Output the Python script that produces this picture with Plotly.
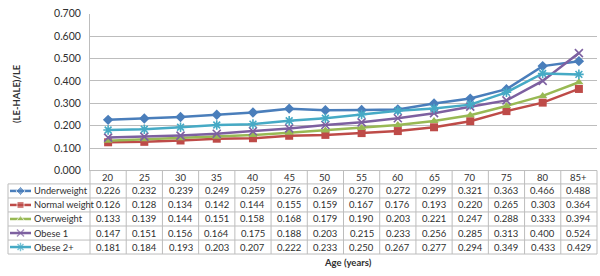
import plotly.graph_objects as go

ages = ["20", "25", "30", "35", "40", "45", "50", "55", "60", "65", "70", "75", "80", "85+"]
series_names = ["Underweight", "Normal weight", "Overweight", "Obese 1", "Obese 2+"]
underweight = [0.226, 0.232, 0.239, 0.249, 0.259, 0.276, 0.269, 0.270, 0.272, 0.299, 0.321, 0.363, 0.466, 0.488]
normal_weight = [0.126, 0.128, 0.134, 0.142, 0.144, 0.155, 0.159, 0.167, 0.176, 0.193, 0.220, 0.265, 0.303, 0.364]
overweight = [0.133, 0.139, 0.144, 0.151, 0.158, 0.168, 0.179, 0.190, 0.203, 0.221, 0.247, 0.288, 0.333, 0.394]
obese1 = [0.147, 0.151, 0.156, 0.164, 0.175, 0.188, 0.203, 0.215, 0.233, 0.256, 0.285, 0.313, 0.400, 0.524]
obese2 = [0.181, 0.184, 0.193, 0.203, 0.207, 0.222, 0.233, 0.250, 0.267, 0.277, 0.294, 0.349, 0.433, 0.429]
y_ticks = [0.0, 0.1, 0.2, 0.3, 0.4, 0.5, 0.6, 0.7]

series_values = [underweight, normal_weight, overweight, obese1, obese2]
colors = ["#4A7EBB", "#BE4B48", "#98B954", "#7D60A0", "#46AAC5"]
symbols = ["diamond", "square", "triangle-up", "x-thin", "asterisk"]
msizes = [8, 8, 8, 8, 8]

W, H = 600, 276
PL, PR, PT, PB = 90, 597, 8, 172   # plot area in pixels
TL = 8                              # table left
row_lines = [186, 200.7, 215.3, 230, 244.7, 259.3]
FONT = "Lato, Liberation Sans, sans-serif"
TXT = "#303030"
GRID = "#BDBDBD"

fig = go.Figure()

for name, vals, c, s, ms in zip(series_names, series_values, colors, symbols, msizes):
    line_marker = dict(symbol=s, size=ms, color=c)
    if s in ("x-thin", "asterisk"):
        line_marker["line"] = dict(color=c, width=1.6)
    fig.add_trace(go.Scatter(
        x=ages, y=vals, mode="lines+markers", name=name,
        line=dict(color=c, width=2.5), marker=line_marker,
        xaxis="x", yaxis="y", showlegend=False, cliponaxis=False))

# legend samples in the table label column (pixel axes x2/y2)
for i, (name, c, s, ms) in enumerate(zip(series_names, colors, symbols, msizes)):
    yc = (row_lines[i] + row_lines[i + 1]) / 2
    mk = dict(symbol=s, size=[0, ms - 1, 0], color=c)
    if s in ("x-thin", "asterisk"):
        mk["line"] = dict(color=c, width=1.4)
    fig.add_trace(go.Scatter(
        x=[10, 20.5, 31], y=[yc, yc, yc], mode="lines+markers",
        line=dict(color=c, width=2.5), marker=mk,
        xaxis="x2", yaxis="y2", showlegend=False, hoverinfo="skip", cliponaxis=False))
    fig.add_annotation(x=31.5, y=yc, xref="x2", yref="y2", text=name, showarrow=False,
                       xanchor="left", yanchor="middle",
                       font=dict(family=FONT, size=9.3, color=TXT))

# table header (age labels) and values; x given as category index
hdr_y = (PB + row_lines[0]) / 2 + 0.5
for j, a in enumerate(ages):
    fig.add_annotation(x=j, y=hdr_y, xref="x", yref="y2", text=a, showarrow=False,
                       xanchor="center", yanchor="middle",
                       font=dict(family=FONT, size=9.5, color=TXT))
    for i, vals in enumerate(series_values):
        yc = (row_lines[i] + row_lines[i + 1]) / 2
        fig.add_annotation(x=j, y=yc, xref="x", yref="y2", text=f"{vals[j]:.3f}",
                           showarrow=False, xanchor="center", yanchor="middle",
                           font=dict(family=FONT, size=9.5, color=TXT))

# table borders
shapes = []
for k, yl in enumerate(row_lines):
    shapes.append(dict(type="line", xref="x2", yref="y2", x0=TL, x1=PR, y0=yl, y1=yl,
                       line=dict(color=GRID, width=1)))
shapes.append(dict(type="line", xref="x2", yref="y2", x0=TL, x1=TL, y0=row_lines[0], y1=row_lines[-1],
                   line=dict(color=GRID, width=1)))
n = len(ages)
for k in range(n + 1):
    xc = PL + (PR - PL) * k / n
    shapes.append(dict(type="line", xref="x2", yref="y2", x0=xc, x1=xc, y0=PB, y1=row_lines[-1],
                       line=dict(color=GRID, width=1)))
shapes.append(dict(type="line", xref="x2", yref="y2", x0=PL, x1=PR, y0=PB, y1=PB,
                   line=dict(color=GRID, width=1)))

fig.update_layout(
    width=W, height=H, autosize=False,
    margin=dict(l=0, r=0, t=0, b=0, pad=0),
    paper_bgcolor="white", plot_bgcolor="rgba(0,0,0,0)",
    font=dict(family=FONT, color=TXT),
    shapes=shapes,
    xaxis=dict(domain=[PL / W, PR / W], type="category", range=[-0.5, n - 0.5],
               showticklabels=False, showgrid=False, zeroline=False, ticks="",
               showline=False, anchor="y"),
    yaxis=dict(domain=[(H - PB) / H, (H - PT) / H], range=[0, 0.7],
               tickvals=y_ticks, tickformat=".3f", ticks="", ticklen=0,
               ticklabelstandoff=6,
               showgrid=True, gridcolor=GRID, gridwidth=1, zeroline=False,
               showline=True, linecolor=GRID, linewidth=1,
               tickfont=dict(family=FONT, size=10.5, color=TXT), anchor="x"),
    xaxis2=dict(domain=[0, 1], range=[0, W], visible=False, anchor="y2", fixedrange=True),
    yaxis2=dict(domain=[0, 1], range=[H, 0], visible=False, anchor="x2", fixedrange=True),
)

fig.add_annotation(x=16, y=(PT + PB) / 2 + 2, xref="x2", yref="y2", text="<b>(LE-HALE)/LE</b>",
                   textangle=-90, showarrow=False, xanchor="center", yanchor="middle",
                   font=dict(family=FONT, size=9.5, color=TXT))
fig.add_annotation(x=348, y=268, xref="x2", yref="y2", text="<b>Age (years)</b>",
                   showarrow=False, xanchor="center", yanchor="middle",
                   font=dict(family=FONT, size=9.5, color=TXT))

fig.write_html("out.html", config={"displayModeBar": False},
               post_script="document.body.style.margin='0';document.body.style.overflow='hidden';")
